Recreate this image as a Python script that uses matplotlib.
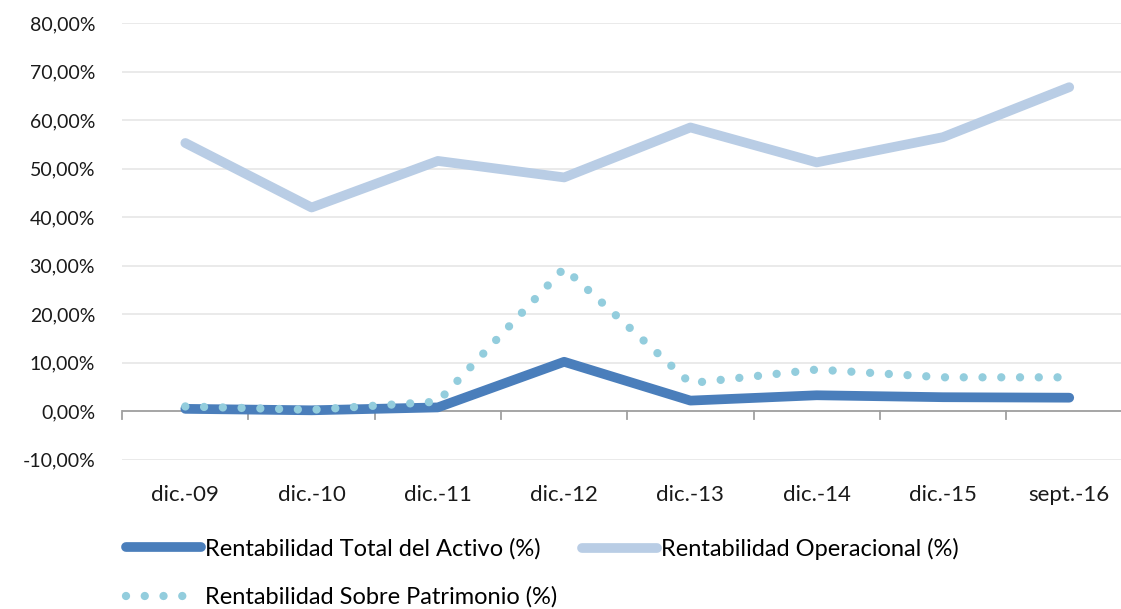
import matplotlib.pyplot as plt
import numpy as np
from matplotlib.ticker import FuncFormatter

plt.rcParams['font.family'] = ['Lato', 'DejaVu Sans']

periodos = ['dic.-09', 'dic.-10', 'dic.-11', 'dic.-12', 'dic.-13', 'dic.-14', 'dic.-15', 'sept.-16']
activo = [0.5, 0.2, 0.8, 10.2, 2.2, 3.3, 2.9, 2.8]
operacional = [55.3, 42.0, 51.6, 48.2, 58.5, 51.3, 56.5, 66.8]
patrimonio = [1.0, 0.3, 2.0, 29.5, 5.8, 8.6, 7.0, 7.0]

c_activo = '#4A7EBB'
c_oper = '#B9CDE5'
c_patr = '#93CDDD'

fig = plt.figure(figsize=(11.21, 6.09), dpi=100)
ax = fig.add_axes([0.109, 0.245, 0.891, 0.717])

x = np.arange(len(periodos))
l1, = ax.plot(x, activo, color=c_activo, lw=7, solid_capstyle='round', solid_joinstyle='round',
              label='Rentabilidad Total del Activo (%)', zorder=3)
l2, = ax.plot(x, operacional, color=c_oper, lw=7, solid_capstyle='round', solid_joinstyle='round',
              label='Rentabilidad Operacional (%)', zorder=3)
l3, = ax.plot(x, patrimonio, color=c_patr, lw=6, linestyle=(0, (0.001, 2.25)),
              dash_capstyle='round', label='Rentabilidad Sobre Patrimonio (%)', zorder=4)

ax.set_ylim(-10, 80)
ax.set_yticks(np.arange(-10, 81, 10))
ax.yaxis.set_major_formatter(FuncFormatter(lambda v, p: ('%.2f%%' % v).replace('.', ',')))
ax.set_xlim(-0.5, 7.41)
ax.set_xticks(x)
ax.set_xticklabels(periodos)

ax.grid(axis='y', color='#E6E6E6', lw=1.2, zorder=0)
ax.axhline(0, color='#A0A0A0', lw=1.3, zorder=2)
for s in ax.spines.values():
    s.set_visible(False)

ax.tick_params(axis='y', length=0, labelsize=14, pad=19.5, colors='#1a1a1a')
ax.tick_params(axis='x', length=0, labelsize=16, pad=18.5, colors='#1a1a1a')

# ticks hanging from the zero line
for b in np.arange(-0.5, 8, 1):
    ax.plot([b, b], [0, -1.6], color='#A0A0A0', lw=1.3, zorder=2, clip_on=False)

leg_kw = dict(loc='upper left', frameon=False, fontsize=17, handlelength=3.2,
              handletextpad=0.17, labelspacing=1.15, borderaxespad=0, borderpad=0)
fig.legend([l1, l3], [l1.get_label(), l3.get_label()],
           bbox_to_anchor=(0.112, 0.117), **leg_kw)
fig.legend([l2], [l2.get_label()], bbox_to_anchor=(0.519, 0.117), **leg_kw)

fig.savefig('out.png', dpi=100)
